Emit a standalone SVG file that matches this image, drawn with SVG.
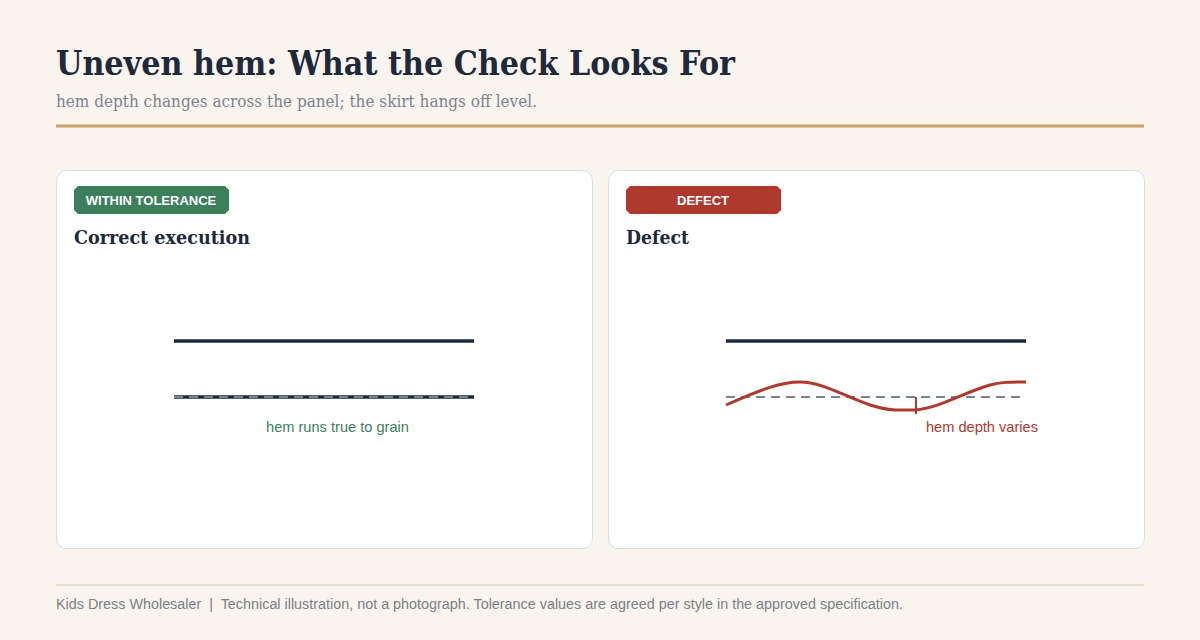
<svg xmlns="http://www.w3.org/2000/svg" width="1200" height="640" viewBox="0 0 1200 640">
<style>
.serif{font-family:Georgia,"DejaVu Serif","Liberation Serif",serif}
.sans{font-family:"Liberation Sans",Arial,sans-serif}
.card{fill:#fff;stroke:#cfdff0;stroke-width:1}
.badge-t{font-family:"Liberation Sans",Arial,sans-serif;font-size:13px;font-weight:bold;fill:#fff;text-anchor:middle}
.head{font-size:19px;font-weight:bold;fill:#1e293b}
.garment{stroke:#1e293b;stroke-width:3.5;fill:none}
.ref{stroke:#7a8391;stroke-width:2;stroke-dasharray:9 6;fill:none}
</style>
<rect width="1200" height="640" fill="#f9f5ee"/>
<g id="header">
<text x="56" y="75" class="serif" font-size="33" font-weight="bold" fill="#1e293b" textLength="679" lengthAdjust="spacingAndGlyphs">Uneven hem: What the Check Looks For</text>
<text x="56" y="107" class="serif" font-size="17" fill="#7a8391" textLength="481" lengthAdjust="spacingAndGlyphs">hem depth changes across the panel; the skirt hangs off level.</text>
<line x1="56" y1="126" x2="1144" y2="126" stroke="#c8a46a" stroke-width="3"/>
</g>
<g id="panel-correct">
<rect class="card" x="56.5" y="170.5" width="536" height="378" rx="10"/>
<path d="M78,186 H225 L229,190 V210 L225,214 H78 L74,210 V190 Z" fill="#3b7f5c"/>
<text x="151" y="205" class="badge-t">WITHIN TOLERANCE</text>
<text x="74" y="244" class="serif head" textLength="176" lengthAdjust="spacingAndGlyphs">Correct execution</text>
<line class="garment" x1="174" y1="341" x2="474" y2="341"/>
<line class="garment" x1="174" y1="397" x2="474" y2="397"/>
<line class="ref" x1="174" y1="397" x2="474" y2="397"/>
<text x="266" y="432" class="sans" font-size="14.5" fill="#3b7f5c" textLength="143" lengthAdjust="spacingAndGlyphs">hem runs true to grain</text>
</g>
<g id="panel-defect">
<rect class="card" x="608.5" y="170.5" width="536" height="378" rx="10"/>
<path d="M630,186 H777 L781,190 V210 L777,214 H630 L626,210 V190 Z" fill="#b0392e"/>
<text x="703" y="205" class="badge-t">DEFECT</text>
<text x="626" y="244" class="serif head" textLength="63" lengthAdjust="spacingAndGlyphs">Defect</text>
<line class="garment" x1="726" y1="341" x2="1026" y2="341"/>
<line class="ref" x1="726" y1="397" x2="1021" y2="397"/>
<path d="M726,405 C760,390 780,382 800,382 C830,382 860,408 895,410 L915,410 C940,408 965,392 990,385 C1000,382 1010,382 1026,382" fill="none" stroke="#b0392e" stroke-width="3"/>
<line x1="916" y1="397" x2="916" y2="414" stroke="#b0392e" stroke-width="2"/>
<text x="926" y="432" class="sans" font-size="14.5" fill="#b0392e" textLength="112" lengthAdjust="spacingAndGlyphs">hem depth varies</text>
</g>
<g id="connectors"></g>
<g id="footer">
<line x1="56" y1="585" x2="1144" y2="585" stroke="#e6dfcd" stroke-width="2"/>
<text x="56" y="609" class="sans" font-size="14" fill="#7a7f88" xml:space="preserve" textLength="847" lengthAdjust="spacingAndGlyphs">Kids Dress Wholesaler  |  Technical illustration, not a photograph. Tolerance values are agreed per style in the approved specification.</text>
</g>
</svg>
